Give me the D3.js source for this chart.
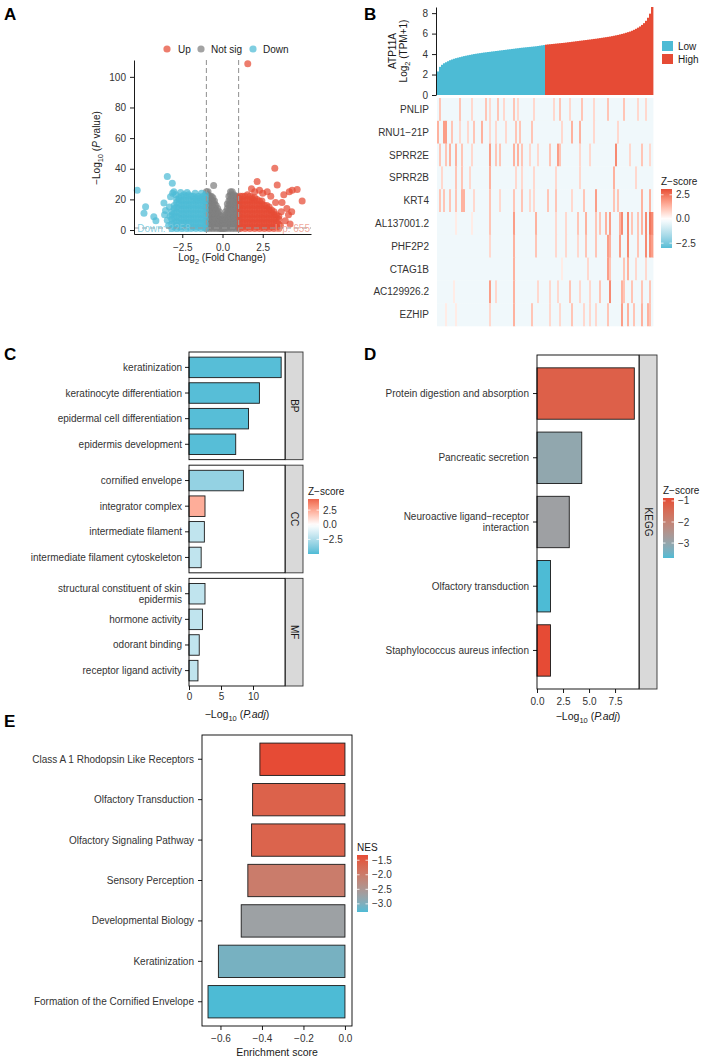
<!DOCTYPE html>
<html><head><meta charset="utf-8">
<script src="https://cdn.jsdelivr.net/npm/d3@7"></script>
<style>body{margin:0;background:#fff}</style>
</head><body>
<svg id="fig" width="705" height="1062"></svg>
<script>
// ---------------- DATA ----------------
// A: volcano (log2FC, -log10 P)
const downCols = [
 [-3.15,[1,4,7,10,12]],[-3.0,[2,5,8,11,14,16]],[-2.85,[1,3,6,9,12,15,18,20]],
 [-2.7,[2,5,8,11,14,17,20,21]],[-2.55,[1,4,7,10,13,16,19,22]],[-2.4,[2,5,8,11,14,17,20,23]],
 [-2.25,[1,4,7,10,13,16,19,22]],[-2.1,[2,5,8,11,14,17,20,23]],[-1.95,[1,4,7,10,13,16,19,22]],
 [-1.8,[2,5,8,11,14,17,20,22]],[-1.65,[1,4,7,10,13,16,19,21]],[-1.5,[2,5,8,11,14,17,20,22]],
 [-1.35,[1,4,7,10,13,16,19,21]],[-1.2,[2,5,8,11,14,17,20,22]],[-1.07,[1,4,7,10,13,16,19,21,23]]
];
const downOut = [[-5.3,26],[-4.78,15.2],[-4.88,11],[-4.27,8.7],[-4.14,6],[-3.64,17.6],[-3.54,12.7],
 [-3.23,21.8],[-3.12,30.5],[-3.43,34.9],[-3.02,25],[-3.1,24],[-3.43,6.3],[-3.6,10],[-3.3,15],
 [-3.35,3],[-2.9,23],[-2.6,24.5],[-2.2,24.5],[-1.7,24],[-1.3,24],[-3.25,9]];
const greyCols = [
 [-1.0,[1,4,7,10,13,16,19,22,25]],[-0.9,[2,5,8,11,14,17,20,23,25]],[-0.8,[1,4,7,10,13,16,19,22]],
 [-0.7,[2,5,8,11,14,17,20,22]],[-0.6,[1,4,7,10,13,16,19,21]],[-0.5,[2,5,8,11,14,17,19]],
 [-0.4,[1,4,7,10,13,16]],[-0.3,[2,5,8,11,14]],[-0.2,[1,4,7,10,12]],[-0.1,[1,3,6,9]],
 [0.0,[1,3,5,7]],[0.1,[1,3,6,8]],[0.2,[1,4,7,10,12]],[0.3,[2,5,8,11,14,17]],
 [0.4,[1,4,7,10,13,16,19,22]],[0.5,[2,5,8,11,14,17,20,23,25]],[0.6,[1,4,7,10,13,16,19,22,25]],
 [0.7,[2,5,8,11,14,17,20,23]],[0.8,[1,4,7,10,13,16,19,22]],[0.9,[2,5,8,11,14,17,20,22]],
 [1.0,[1,4,7,10,13,16,19,21]]
];
const greyOut = [[-0.55,29]];
const upCols = [
 [1.1,[1,4,7,10,13,16,19,22]],[1.25,[2,5,8,11,14,17,20,22]],[1.4,[1,4,7,10,13,16,19,22]],
 [1.55,[2,5,8,11,14,17,20,23]],[1.7,[1,4,7,10,13,16,19,22]],[1.85,[2,5,8,11,14,17,20,21]],
 [2.0,[1,4,7,10,13,16,19,21]],[2.15,[2,5,8,11,14,17,20]],[2.3,[1,4,7,10,13,16,19]],
 [2.45,[2,5,8,11,14,17,19]],[2.6,[1,4,7,10,13,16]],[2.75,[2,5,8,11,14,16]],
 [2.9,[1,4,7,10,13,15]],[3.05,[2,5,8,11,13]],[3.2,[1,4,7,10,12]],[3.35,[2,5,8,10]],[3.5,[1,4,7,9]]
];
const upOut = [[1.57,108.5],[3.25,40.3],[2.15,31.6],[2.78,25],[3.4,29.4],[3.81,23],[4.64,26.5],
 [4.95,19],[4.33,26],[4.15,25],[4.0,14],[4.1,10],[3.7,18],[3.9,6],[3.65,12],[2.5,24],[2.3,26],
 [2.0,25],[1.8,27],[3.0,22],[3.3,18],[4.3,12],[3.6,3],[4.2,4]];
const volcanoTicksY = [0,20,40,60,80,100];
const volcanoTicksX = [-2.5,0,2.5];
const downCount = "Down: 2258", upCount = "Up: 655";

// B: ATP11A expression (sorted samples)
const lowExpr = [2.3,2.75,2.95,3.1,3.2,3.3,3.4,3.47,3.54,3.6,3.65,3.7,3.75,3.8,3.84,3.88,3.92,3.96,4.0,
 4.03,4.06,4.09,4.12,4.15,4.17,4.2,4.22,4.25,4.27,4.3,4.32,4.35,4.37,4.4,4.42,4.45,4.47,4.5,4.52,4.55,
 4.57,4.6,4.62,4.64,4.66,4.68,4.7,4.72,4.74,4.76,4.79,4.82,4.85,4.88];
const highExpr = [4.92,4.94,4.96,4.98,5.0,5.02,5.04,5.06,5.08,5.1,5.12,5.15,5.17,5.2,5.22,5.25,5.27,5.3,
 5.32,5.35,5.37,5.4,5.42,5.45,5.48,5.5,5.53,5.56,5.59,5.62,5.65,5.68,5.71,5.75,5.79,5.83,5.87,5.92,5.97,
 6.02,6.08,6.14,6.2,6.28,6.37,6.47,6.58,6.7,6.85,7.02,7.25,7.55,7.95,8.6];
const exprTicks = [0,2,4,6,8];
const heatGenes = ["PNLIP","RNU1\u221221P","SPRR2E","SPRR2B","KRT4","AL137001.2","PHF2P2","CTAG1B","AC129926.2","EZHIP"];
const heatBase = -0.3;
// [sample index, intensity level] of the red streaks, per gene
const heatStreaks = [
 [[1,3],[11,3],[17,2],[24,3],[26,2],[30,3],[33,2],[38,3],[40,2],[48,2],[58,2],[61,3],[66,2],[72,3],[78,2],[85,3],[93,3],[100,2],[104,2]],
 [[0,4],[3,5],[4,5],[7,3],[11,2],[15,2],[18,3],[22,4],[26,2],[29,2],[34,2],[39,3],[41,3],[47,3],[62,2],[67,4],[71,4],[78,2],[90,2]],
 [[1,3],[4,3],[6,4],[9,4],[12,3],[17,2],[26,5],[29,3],[31,3],[38,4],[40,4],[42,3],[46,2],[50,2],[56,3],[60,5],[61,3],[71,2],[76,2],[89,6],[96,2],[102,3],[106,2]],
 [[2,2],[9,3],[12,3],[16,2],[26,4],[39,2],[42,2],[48,2],[59,2],[71,2],[88,4],[99,2]],
 [[1,3],[3,3],[6,3],[9,3],[12,4],[13,4],[18,2],[26,3],[31,2],[38,3],[42,3],[46,2],[48,2],[55,3],[59,3],[67,2],[73,3],[79,5],[88,3],[90,3],[102,4],[106,4]],
 [[9,1],[17,1],[26,3],[38,5],[49,4],[59,2],[64,2],[70,3],[74,4],[79,3],[81,3],[84,4],[86,5],[91,4],[92,6],[95,6],[97,3],[100,3],[102,4],[104,6],[106,7],[107,6]],
 [[26,2],[38,4],[49,3],[59,2],[64,2],[70,2],[74,3],[79,3],[85,5],[86,4],[91,5],[95,6],[100,3],[104,6],[106,6],[107,5]],
 [[38,4],[62,1],[75,2],[85,5],[86,3],[93,3],[95,4],[99,2],[104,2]],
 [[8,1],[26,5],[29,2],[38,4],[50,2],[56,2],[60,2],[66,3],[71,2],[76,2],[81,3],[86,6],[92,4],[93,3],[97,3],[102,3],[106,3]],
 [[4,1],[9,1],[26,2],[38,4],[47,3],[56,2],[61,2],[67,3],[73,2],[76,2],[79,2],[85,3],[92,5],[95,4],[98,3],[102,4],[105,4],[106,3]]
];
const heatLegendTicks = [2.5,0,-2.5];

// C: GO enrichment
const goTerms = ["keratinization","keratinocyte differentiation","epidermal cell differentiation","epidermis development",
 "cornified envelope","integrator complex","intermediate filament","intermediate filament cytoskeleton",
 "structural constituent of skin epidermis","hormone activity","odorant binding","receptor ligand activity"];
const goOnt = ["BP","BP","BP","BP","CC","CC","CC","CC","MF","MF","MF","MF"];
const goLogP = [14.4,11.0,9.3,7.3,8.5,2.5,2.4,1.9,2.5,2.1,1.6,1.4];
const goZ = [-4.8,-4.8,-4.8,-4.8,-3.3,2.4,-2.0,-2.0,-2.0,-2.0,-2.0,-2.0];
const goTicks = [0,5,10];
const goLegendTicks = [2.5,0,-2.5];

// D: KEGG
const keggTerms = ["Protein digestion and absorption","Pancreatic secretion","Neuroactive ligand\u2212receptor interaction",
 "Olfactory transduction","Staphylococcus aureus infection"];
const keggLogP = [9.35,4.3,3.1,1.3,1.3];
const keggZ = [-1.23,-3.05,-2.85,-3.71,-0.86];
const keggTicks = [0,2.5,5,7.5];
const keggLegendTicks = [-1,-2,-3];

// E: GSEA
const gseaTerms = ["Class A 1 Rhodopsin Like Receptors","Olfactory Transduction","Olfactory Signaling Pathway",
 "Sensory Perception","Developmental Biology","Keratinization","Formation of the Cornified Envelope"];
const gseaES = [-0.41,-0.445,-0.45,-0.468,-0.50,-0.61,-0.66];
const gseaNES = [-1.32,-1.6,-1.63,-2.0,-2.7,-3.05,-3.28];
const gseaTicks = [-0.6,-0.4,-0.2,0];
const nesLegendTicks = [-1.5,-2.0,-2.5,-3.0];

// ---------------- DRAW ----------------
const FF = '"Liberation Sans", Arial, Helvetica, sans-serif';
const FS = 10, TXT = "#1a1a1a", TICKC = "#333";
const RED = "#E64B35", BLUE = "#4DBBD5", GREY = "#7f7f7f";
const svg = d3.select("#fig").attr("font-family", FF);
const defs = svg.append("defs");

function axisStyle(g){
  g.attr("font-family", FF).attr("font-size", FS);
  g.select(".domain").attr("stroke","#000").attr("stroke-width",0.9);
  g.selectAll(".tick line").attr("stroke","#000").attr("stroke-width",0.9);
  g.selectAll(".tick text").attr("fill",TICKC).attr("font-size",FS);
}
function letter(t,x,y){ svg.append("text").attr("x",x).attr("y",y).attr("font-size",17).attr("font-weight","bold").attr("fill","#000").text(t); }
function wrap(s,w){ const words=s.split(" "); const out=[]; let cur="";
  for(const wd of words){ if(cur && (cur+" "+wd).length>w){ out.push(cur); cur=wd; } else cur = cur ? cur+" "+wd : wd; }
  if(cur) out.push(cur); return out; }
function catLabel(g, s, x, y){
  const lines = wrap(s,35); const lh = 11; const n = lines.length;
  const t = g.append("text").attr("text-anchor","end").attr("font-size",FS).attr("fill",TICKC);
  lines.forEach((l,i)=>t.append("tspan").attr("x",x).attr("y",y+(i-(n-1)/2)*lh).attr("dy","0.35em").text(l));
}
function gradient2(M){ return z => z<0 ? d3.interpolateLab("#ffffff",BLUE)(Math.min(1,-z/M)) : d3.interpolateLab("#ffffff",RED)(Math.min(1,z/M)); }
function colorBar(id, x, y0, y1, lo, hi, colorFn, ticks, title, fmt){
  const lg = defs.append("linearGradient").attr("id",id).attr("x1",0).attr("x2",0).attr("y1",0).attr("y2",1);
  d3.range(0,1.0001,0.05).forEach(t=>lg.append("stop").attr("offset",t).attr("stop-color",colorFn(hi + (lo-hi)*t)));
  svg.append("rect").attr("x",x).attr("y",y0).attr("width",11).attr("height",y1-y0).attr("fill",`url(#${id})`);
  const s = d3.scaleLinear().domain([hi,lo]).range([y0,y1]);
  ticks.forEach(v=>{
    svg.append("line").attr("x1",x).attr("x2",x+2.5).attr("y1",s(v)).attr("y2",s(v)).attr("stroke","#fff").attr("stroke-width",0.8);
    svg.append("line").attr("x1",x+8.5).attr("x2",x+11).attr("y1",s(v)).attr("y2",s(v)).attr("stroke","#fff").attr("stroke-width",0.8);
    svg.append("text").attr("x",x+15).attr("y",s(v)).attr("dy","0.35em").attr("font-size",FS).attr("fill",TICKC).text(fmt(v));
  });
  svg.append("text").attr("x",x).attr("y",y0-4).attr("font-size",FS).attr("fill",TXT).text(title);
}
const minus = d3.format(".1f");

// ===== A: volcano =====
letter("A",4,20);
const A = svg.append("g");
const vx = d3.scaleLinear().domain([-5.5,5.5]).range([134,311]);
const vy = d3.scaleLinear().domain([-2.6,111]).range([234,60]);
const flat = cols => cols.flatMap(([v,ps])=>ps.map(p=>[v,p]));
const groups = [
  {pts: flat(greyCols).concat(greyOut), c: GREY},
  {pts: flat(downCols).concat(downOut), c: BLUE},
  {pts: flat(upCols).concat(upOut), c: RED}
];
groups.forEach(gr=>{
  A.append("g").selectAll("circle").data(gr.pts).join("circle")
   .attr("cx",d=>vx(d[0])).attr("cy",d=>vy(d[1])).attr("r",3.5).attr("fill",gr.c).attr("fill-opacity",0.72);
});
[-1,1].forEach(v=>A.append("line").attr("x1",vx(v)).attr("x2",vx(v)).attr("y1",vy(111)).attr("y2",vy(-2.6))
  .attr("stroke","#9a9a9a").attr("stroke-width",1.1).attr("stroke-dasharray","5,3"));
A.append("line").attr("x1",134).attr("x2",311).attr("y1",vy(1.3)).attr("y2",vy(1.3))
  .attr("stroke","#9a9a9a").attr("stroke-width",1.1).attr("stroke-dasharray","5,3");
A.append("text").attr("x",vx(-5.3)).attr("y",vy(1.3)).attr("dy","0.35em").attr("font-size",FS).attr("fill","#7ccbe0").attr("fill-opacity",0.9).text(downCount);
A.append("text").attr("x",310).attr("y",vy(1.3)).attr("dy","0.35em").attr("text-anchor","end").attr("font-size",FS).attr("fill","#f0a090").attr("fill-opacity",0.9).text(upCount);
A.append("g").attr("transform","translate(134,0)")
  .call(d3.axisLeft(vy).tickValues(volcanoTicksY).tickSize(4).tickPadding(4).tickSizeOuter(0)).call(axisStyle);
A.append("g").attr("transform","translate(0,234)")
  .call(d3.axisBottom(vx).tickValues(volcanoTicksX).tickFormat(minus).tickSize(4).tickPadding(6).tickSizeOuter(0)).call(axisStyle);
// legend
[["Up",RED,167,178],["Not sig",GREY,201,211],["Down",BLUE,253,263]].forEach(([t,c,cx,tx])=>{
  A.append("circle").attr("cx",cx).attr("cy",49).attr("r",3.6).attr("fill",c).attr("fill-opacity",0.72);
  A.append("text").attr("x",tx).attr("y",49).attr("dy","0.35em").attr("font-size",FS).attr("fill",TXT).text(t);
});
{ const t = A.append("text").attr("transform","translate(100,148) rotate(-90)").attr("text-anchor","middle").attr("font-size",FS).attr("fill",TXT);
  t.append("tspan").text("\u2212Log"); t.append("tspan").attr("font-size",7.5).attr("dy",3).text("10");
  t.append("tspan").attr("dy",-3).text(" ("); t.append("tspan").attr("font-style","italic").text("P");
  t.append("tspan").text(" value)"); }
{ const t = A.append("text").attr("x",222).attr("y",261).attr("text-anchor","middle").attr("font-size",FS).attr("fill",TXT);
  t.append("tspan").text("Log"); t.append("tspan").attr("font-size",7.5).attr("dy",3).text("2");
  t.append("tspan").attr("dy",-3).text(" (Fold Change)"); }

// ===== B: expression bars + heatmap =====
letter("B",364,20);
const B = svg.append("g");
const expr = lowExpr.map(v=>({v,g:"Low"})).concat(highExpr.map(v=>({v,g:"High"})));
const bx = d3.scaleBand().domain(d3.range(expr.length)).range([437,653]);
const by = d3.scaleLinear().domain([0,8.6]).range([95,7]);
B.append("g").selectAll("rect").data(expr).join("rect")
  .attr("x",(d,i)=>bx(i)).attr("width",bx.bandwidth()+0.4).attr("y",d=>by(d.v)).attr("height",d=>by(0)-by(d.v))
  .attr("fill",d=>d.g==="Low"?BLUE:RED);
B.append("g").attr("transform","translate(436,0)")
  .call(d3.axisLeft(by).tickValues(exprTicks).tickSize(4).tickPadding(4).tickSizeOuter(0)).call(axisStyle);
{ B.append("text").attr("transform","translate(396,51) rotate(-90)").attr("text-anchor","middle").attr("font-size",FS).attr("fill",TXT).text("ATP11A");
  const t2 = B.append("text").attr("transform","translate(407,51) rotate(-90)").attr("text-anchor","middle").attr("font-size",FS).attr("fill",TXT);
  t2.append("tspan").text("Log"); t2.append("tspan").attr("font-size",7.5).attr("dy",3).text("2");
  t2.append("tspan").attr("dy",-3).text(" (TPM+1)"); }
[["Low",BLUE,41],["High",RED,54]].forEach(([t,c,y])=>{
  B.append("rect").attr("x",662).attr("y",y).attr("width",11).attr("height",10).attr("fill",c);
  B.append("text").attr("x",678).attr("y",y+5).attr("dy","0.35em").attr("font-size",FS).attr("fill",TXT).text(t);
});
const hy = d3.scaleBand().domain(heatGenes).range([98,326]);
const heatColor = gradient2(3.1);
const cells = [];
heatGenes.forEach((g,r)=>{
  const row = expr.map(()=>heatBase);
  heatStreaks[r].forEach(([c,l])=>{ row[c] = 0.35*l; });
  row.forEach((z,c)=>cells.push({g,c,z}));
});
B.append("g").selectAll("rect").data(cells).join("rect")
  .attr("x",d=>bx(d.c)).attr("width",bx.bandwidth()+0.4).attr("y",d=>hy(d.g)).attr("height",hy.bandwidth()+0.3)
  .attr("fill",d=>heatColor(d.z));
heatGenes.forEach(g=>B.append("text").attr("x",429).attr("y",hy(g)+hy.bandwidth()/2).attr("dy","0.35em")
  .attr("text-anchor","end").attr("font-size",FS).attr("fill",TICKC).text(g));
colorBar("gHeat",661,189,248,-3.0,3.1,heatColor,heatLegendTicks,"Z\u2212score",minus);

// ===== C: GO =====
letter("C",4,360);
const C = svg.append("g");
const cx = d3.scaleLinear().domain([0,15]).range([189,285]);
const goColor = gradient2(5.0);
const facets = ["BP","CC","MF"], ftop = 352, fbot = 686, fgap = 5.5;
const fh = (fbot-ftop-2*fgap)/3;
facets.forEach((f,i)=>{
  const y0 = ftop + i*(fh+fgap);
  const idx = goTerms.map((_,j)=>j).filter(j=>goOnt[j]===f);
  const yb = d3.scaleBand().domain(idx.map(j=>goTerms[j])).range([y0,y0+fh]).paddingInner(0.2).paddingOuter(0.2);
  C.append("g").selectAll("rect").data(idx).join("rect")
    .attr("x",cx(0)).attr("y",j=>yb(goTerms[j])).attr("height",yb.bandwidth())
    .attr("width",j=>cx(goLogP[j])-cx(0)).attr("fill",j=>goColor(goZ[j])).attr("stroke","#1a1a1a").attr("stroke-width",0.9);
  C.append("rect").attr("x",189).attr("y",y0).attr("width",96).attr("height",fh).attr("fill","none").attr("stroke","#000").attr("stroke-width",0.9);
  C.append("rect").attr("x",285.5).attr("y",y0).attr("width",17.5).attr("height",fh).attr("fill","#d9d9d9").attr("stroke","#333").attr("stroke-width",0.9);
  C.append("text").attr("transform",`translate(294,${y0+fh/2}) rotate(90)`).attr("text-anchor","middle").attr("dy","0.35em")
    .attr("font-size",FS).attr("fill",TXT).text(f);
  idx.forEach(j=>{
    const yc = yb(goTerms[j])+yb.bandwidth()/2;
    C.append("line").attr("x1",185).attr("x2",189).attr("y1",yc).attr("y2",yc).attr("stroke","#000").attr("stroke-width",0.9);
    catLabel(C, goTerms[j], 182, yc);
  });
});
C.append("g").attr("transform",`translate(0,${fbot})`)
  .call(d3.axisBottom(cx).tickValues(goTicks).tickSize(4).tickPadding(3).tickSizeOuter(0)).call(axisStyle)
  .select(".domain").remove();
function padjTitle(g,x,y){
  const t = g.append("text").attr("x",x).attr("y",y).attr("text-anchor","middle").attr("font-size",FS+0.5).attr("fill",TXT);
  t.append("tspan").text("\u2212Log"); t.append("tspan").attr("font-size",7.5).attr("dy",3).text("10");
  t.append("tspan").attr("dy",-3).text(" ("); t.append("tspan").attr("font-style","italic").text("P.adj");
  t.append("tspan").text(")");
}
padjTitle(C,237,718);
colorBar("gGO",308,499,554,-5.0,4.4,goColor,goLegendTicks,"Z\u2212score",minus);

// ===== D: KEGG =====
letter("D",364,360);
const D = svg.append("g");
const dxs = d3.scaleLinear().domain([0,9.8]).range([537,639]);
const dys = d3.scaleBand().domain(keggTerms).range([355,689]).paddingInner(0.2).paddingOuter(0.2);
const kExt = d3.extent(keggZ);
const keggColor = z => d3.interpolateLab(BLUE,RED)((z-kExt[0])/(kExt[1]-kExt[0]));
D.append("g").selectAll("rect").data(keggTerms).join("rect")
  .attr("x",dxs(0)).attr("y",d=>dys(d)).attr("height",dys.bandwidth())
  .attr("width",(d,i)=>dxs(keggLogP[i])-dxs(0)).attr("fill",(d,i)=>keggColor(keggZ[i])).attr("stroke","#1a1a1a").attr("stroke-width",0.9);
D.append("rect").attr("x",537).attr("y",355).attr("width",102).attr("height",334).attr("fill","none").attr("stroke","#000").attr("stroke-width",0.9);
D.append("rect").attr("x",639.5).attr("y",355).attr("width",17.5).attr("height",334).attr("fill","#d9d9d9").attr("stroke","#333").attr("stroke-width",0.9);
D.append("text").attr("transform","translate(648,522) rotate(90)").attr("text-anchor","middle").attr("dy","0.35em").attr("font-size",FS).attr("fill",TXT).text("KEGG");
keggTerms.forEach(t=>{
  const yc = dys(t)+dys.bandwidth()/2;
  D.append("line").attr("x1",533).attr("x2",537).attr("y1",yc).attr("y2",yc).attr("stroke","#000").attr("stroke-width",0.9);
  catLabel(D,t,529,yc);
});
D.append("g").attr("transform","translate(0,689)")
  .call(d3.axisBottom(dxs).tickValues(keggTicks).tickFormat(minus).tickSize(4).tickPadding(5).tickSizeOuter(0)).call(axisStyle)
  .select(".domain").remove();
padjTitle(D,588,720);
colorBar("gKegg",663,498,558,kExt[0],kExt[1],keggColor,keggLegendTicks,"Z\u2212score",d3.format("d"));

// ===== E: GSEA =====
letter("E",4,727);
const E = svg.append("g");
const ex = d3.scaleLinear().domain([-0.689,0.034]).range([202,352]);
const ey = d3.scaleBand().domain(gseaTerms).range([735,1026]).paddingInner(0.2).paddingOuter(0.2);
const nExt = d3.extent(gseaNES);
const nesColor = z => d3.interpolateLab(BLUE,RED)((z-nExt[0])/(nExt[1]-nExt[0]));
E.append("g").selectAll("rect").data(gseaTerms).join("rect")
  .attr("x",(d,i)=>ex(gseaES[i])).attr("y",d=>ey(d)).attr("height",ey.bandwidth())
  .attr("width",(d,i)=>ex(0)-ex(gseaES[i])).attr("fill",(d,i)=>nesColor(gseaNES[i])).attr("stroke","#1a1a1a").attr("stroke-width",0.9);
E.append("rect").attr("x",202).attr("y",735).attr("width",150).attr("height",291).attr("fill","none").attr("stroke","#000").attr("stroke-width",0.9);
gseaTerms.forEach(t=>{
  const yc = ey(t)+ey.bandwidth()/2;
  E.append("line").attr("x1",198).attr("x2",202).attr("y1",yc).attr("y2",yc).attr("stroke","#000").attr("stroke-width",0.9);
  catLabel(E,t,194,yc);
});
E.append("g").attr("transform","translate(0,1026)")
  .call(d3.axisBottom(ex).tickValues(gseaTicks).tickFormat(minus).tickSize(4).tickPadding(5).tickSizeOuter(0)).call(axisStyle)
  .select(".domain").remove();
E.append("text").attr("x",277).attr("y",1056).attr("text-anchor","middle").attr("font-size",FS+0.5).attr("fill",TXT).text("Enrichment score");
colorBar("gNes",357,855,912,nExt[0],nExt[1],nesColor,nesLegendTicks,"NES",minus);
</script>
</body></html>
